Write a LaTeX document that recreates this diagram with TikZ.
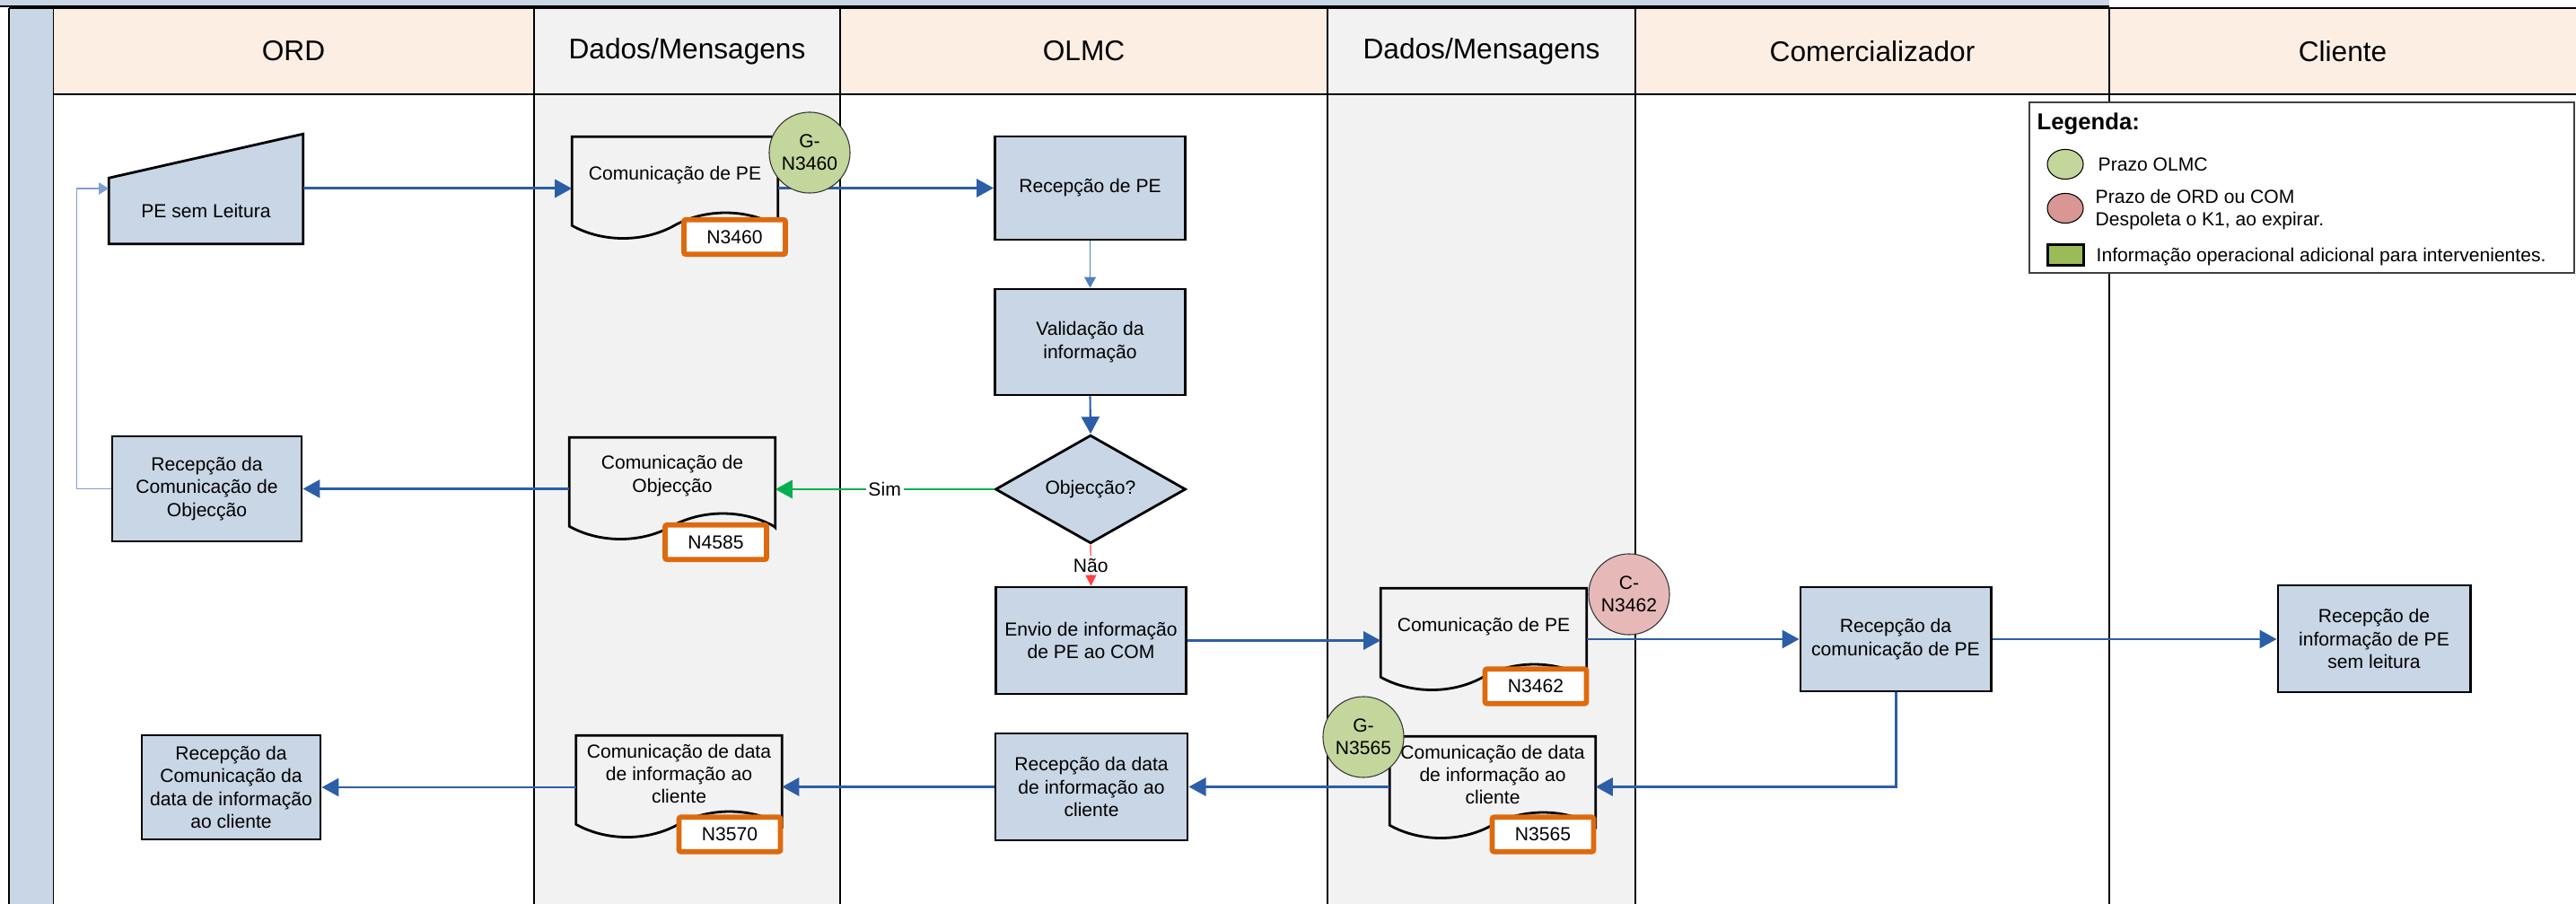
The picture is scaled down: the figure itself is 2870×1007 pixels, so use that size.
\documentclass[tikz,border=0pt]{standalone}
\usepackage{fontspec}
\setmainfont{Liberation Sans}
\usepackage{tikz}
\usetikzlibrary{arrows.meta,shapes.geometric,positioning}
\pgfdeclarelayer{raias}
\pgfdeclarelayer{fundo}
\pgfsetlayers{raias,fundo,main}

\definecolor{caixa}{RGB}{200,214,229}
\definecolor{pessego}{RGB}{253,238,227}
\definecolor{cinza}{RGB}{242,242,242}
\definecolor{azul}{RGB}{44,94,168}
\definecolor{azul2}{RGB}{79,129,189}
\definecolor{azul3}{RGB}{123,160,214}
\definecolor{verde}{RGB}{0,176,80}
\definecolor{vermelho}{RGB}{255,64,64}
\definecolor{laranja}{RGB}{221,106,14}
\definecolor{verdeprazo}{RGB}{195,214,155}
\definecolor{vermprazo}{RGB}{230,185,184}
\definecolor{vermleg}{RGB}{217,150,148}
\definecolor{verdeleg}{RGB}{155,187,89}

\begin{document}
\begin{tikzpicture}
	[x=0.01cm,y=-0.01cm,
	txt/.style={font=\fontsize{6}{7.2}\selectfont},
	cab/.style={font=\fontsize{9}{11}\selectfont},
	proc/.style={rectangle,draw=black,fill=caixa,line width=0.8pt,txt,
		inner sep=1pt,align=center,minimum width=2.12cm,minimum height=1.17cm},
	docum/.style={rectangle,txt,inner sep=1pt,align=center,
		minimum width=2.28cm,minimum height=0.84cm},
	docline/.style={draw=black,fill=cinza,line width=0.8pt},
	cod/.style={rectangle,draw=laranja,fill=white,line width=1.6pt,rounded corners=0.6pt,txt,
		inner sep=0pt,minimum width=1.13cm,minimum height=0.385cm},
	prazo/.style={circle,draw=black!80,fill=verdeprazo,line width=0.3pt,txt,
		inner sep=0pt,minimum size=0.9cm,align=center},
	prazo1/.style={prazo,fill=vermprazo},
	seta/.style={draw=azul,line width=0.85pt,-{Triangle[length=1.9mm,width=2mm]}},
	seta1/.style={draw=azul2,line width=0.35pt,-{Triangle[length=1.2mm,width=1.3mm]}},
	volta/.style={draw=azul3,line width=0.45pt,-{Triangle[length=1.1mm,width=1.3mm]}},
	sim/.style={draw=verde,line width=0.8pt,-{Triangle[length=1.9mm,width=2mm]}},
	nao/.style={draw=vermelho,line width=0.35pt,-{Triangle[length=1.2mm,width=1.2mm]}},
	rotulo/.style={fill=white,inner sep=0.8pt,txt}]
	\useasboundingbox (0,0) rectangle (2870,1007);

	%raias
	\begin{pgfonlayer}{raias}
	\fill[caixa] (0,0) rectangle (2350,7);
	\draw[line width=0.4pt] (0,7) -- (2350,7);
	\foreach \xa/\xb/\cb/\cor in {59/595/pessego/white,595/936/cinza/cinza,
		936/1479/pessego/white,1479/1822/cinza/cinza,1822/2350/pessego/white,2350/2870/pessego/white}{
		\fill[\cb] (\xa,9) rectangle (\xb,105);
		\fill[\cor] (\xa,105) rectangle (\xb,1007);
		\draw[line width=0.4pt] (\xa,9) -- (\xa,1007);
	}
	\fill[caixa] (10,9) rectangle (59,1007);
	\draw[line width=0.4pt] (10,9) -- (10,1007);
	\draw[line width=0.4pt] (10,9) -- (2870,9);
	\draw[line width=0.5pt] (59,105) -- (2870,105);
	\end{pgfonlayer}

	\node[cab] (hord) at (327,57) {ORD};
	\node[cab] (hdad1) at (765.5,57) {Dados/Mensagens};
	\node[cab] (holmc) at (1207.5,57) {OLMC};
	\node[cab] (hdad2) at (1650.5,57) {Dados/Mensagens};
	\node[cab] (hcom) at (2086,57) {Comercializador};
	\node[cab] (hcli) at (2610,57) {Cliente};

	%processos
	\node[txt,minimum width=2.15cm,minimum height=0.72cm,inner sep=0pt] (pe) at (229.5,235) {PE sem Leitura};
	\coordinate (pes) at ([yshift=0.25cm]pe.east);
	\coordinate (pee) at ([yshift=0.25cm]pe.west);

	\node[proc,minimum height=1.15cm] (recpe) at (1214.5,209.5) {Recepção de PE};
	\node[proc,minimum height=1.18cm] (valid) at (1214.5,381) {Validação da\\informação};
	\node[diamond,draw=black,fill=caixa,line width=0.8pt,txt,inner sep=0pt,
		minimum width=2.12cm,minimum height=1.14cm] (obj) at (1215,545) {Objecção?};
	\node[proc,minimum width=2.11cm] (recobj) at (230.5,544.5) {Recepção da\\Comunicação de\\Objecção};
	\node[proc,minimum height=1.19cm] (envio) at (1215.5,713.5) {Envio de informação\\de PE ao COM};
	\node[proc,minimum height=1.16cm] (recom) at (2112,712) {Recepção da\\comunicação de PE};
	\node[proc,minimum width=2.14cm,minimum height=1.19cm] (recli) at (2645,711.5) {Recepção de\\informação de PE\\sem leitura};
	\node[proc,minimum width=2.14cm,minimum height=1.19cm] (recdata) at (1216,876.5) {Recepção da data\\de informação ao\\cliente};
	\node[proc,minimum width=1.99cm,minimum height=1.16cm] (record) at (257.5,877) {Recepção da\\Comunicação da\\data de informação\\ao cliente};

	%documentos
	\node[docum] (d1) at (752,195) {Comunicação de PE};
	\node[docum] (d2) at (749,530) {Comunicação de\\Objecção};
	\node[docum] (d3) at (1653,698) {Comunicação de PE};
	\node[docum] (d4) at (1663,863) {Comunicação de data\\de informação ao\\cliente};
	\node[docum] (d5) at (756.5,862) {Comunicação de data\\de informação ao\\cliente};

	\begin{pgfonlayer}{fundo}
	\draw[docline,fill=caixa] (pe.south west) -- (pe.north west) -- ([yshift=0.49cm]pe.north east)
		-- (pe.south east) -- cycle;
	\foreach \n in {d1,d2,d3,d4,d5}{
		\draw[docline] (\n.south east) ++(0,15) -- (\n.north east) -- (\n.north west) -- ++(0,99)
			.. controls +(34,19) and +(-34,19) .. ++(114,0)
			.. controls +(34,-19) and +(-34,-19) .. ++(114,0) -- cycle;
	}
	\end{pgfonlayer}

	%ligacoes
	\draw[seta] (pes) -- (pes -| d1.west);
	\draw[seta] (recpe.west -| d1.east) -- (recpe.west);
	\draw[seta1] (recpe.south) -- (valid.north);
	\draw[seta,line width=0.6pt] (valid.south) -- (obj.north);
	\draw[sim] (obj.west) -- node[rotulo]{Sim} (obj.west -| d2.east);
	\draw[seta] (recobj.east -| d2.west) -- (recobj.east);
	\draw[volta] (recobj.west) -- ++(-38,0) |- (pee);
	\draw[nao] (obj.south) -- node[rotulo]{Não} (envio.north);
	\draw[seta] (envio.east) -- (envio.east -| d3.west);
	\draw[seta] (recom.west -| d3.east) -- (recom.west);
	\draw[seta] (recom.east) -- (recom.east -| recli.west);
	\draw[seta] (recom.south) |- (recdata.east -| d4.east);
	\draw[seta] (recdata.east -| d4.west) -- (recdata.east);
	\draw[seta] (recdata.west) -- (recdata.west -| d5.east);
	\draw[seta] (record.east -| d5.west) -- (record.east);

	%codigos e prazos
	\node[cod] (n3460) at (818.5,264) {N3460};
	\node[cod] (n4585) at (797.5,604) {N4585};
	\node[cod] (n3462) at (1711,764.5) {N3462};
	\node[cod] (n3565) at (1719,929.5) {N3565};
	\node[cod] (n3570) at (813,929.5) {N3570};
	\node[prazo] (gn3460) at (902,170) {G-\\N3460};
	\node[prazo1] (cn3462) at (1815,662) {C-\\N3462};
	\node[prazo] (gn3565) at (1519,821) {G-\\N3565};

	%legenda
	\draw[draw=black!75,fill=white,line width=0.5pt] (2261,114) rectangle (2868,304);
	\node[anchor=west,inner sep=0pt,font=\bfseries\fontsize{7.3}{8.8}\selectfont] (leg) at (2269,138) {Legenda:};
	\node[ellipse,draw=black,fill=verdeprazo,line width=0.3pt,minimum width=0.4cm,minimum height=0.33cm] (leg1) at (2301,183) {};
	\node[anchor=west,inner sep=0pt,txt] (legt1) at (2337,183) {Prazo OLMC};
	\node[ellipse,draw=black,fill=vermleg,line width=0.3pt,minimum width=0.4cm,minimum height=0.33cm] (leg2) at (2301,232) {};
	\node[anchor=west,inner sep=0pt,txt,align=left] (legt2) at (2334,233.5) {Prazo de ORD ou COM\\Despoleta o K1, ao expirar.};
	\node[rectangle,draw=black,fill=verdeleg,line width=0.9pt,minimum width=0.4cm,minimum height=0.21cm] (leg3) at (2301.5,284) {};
	\node[anchor=west,inner sep=0pt,txt] (legt3) at (2335,286) {Informação operacional adicional para intervenientes.};
\end{tikzpicture}
\end{document}
